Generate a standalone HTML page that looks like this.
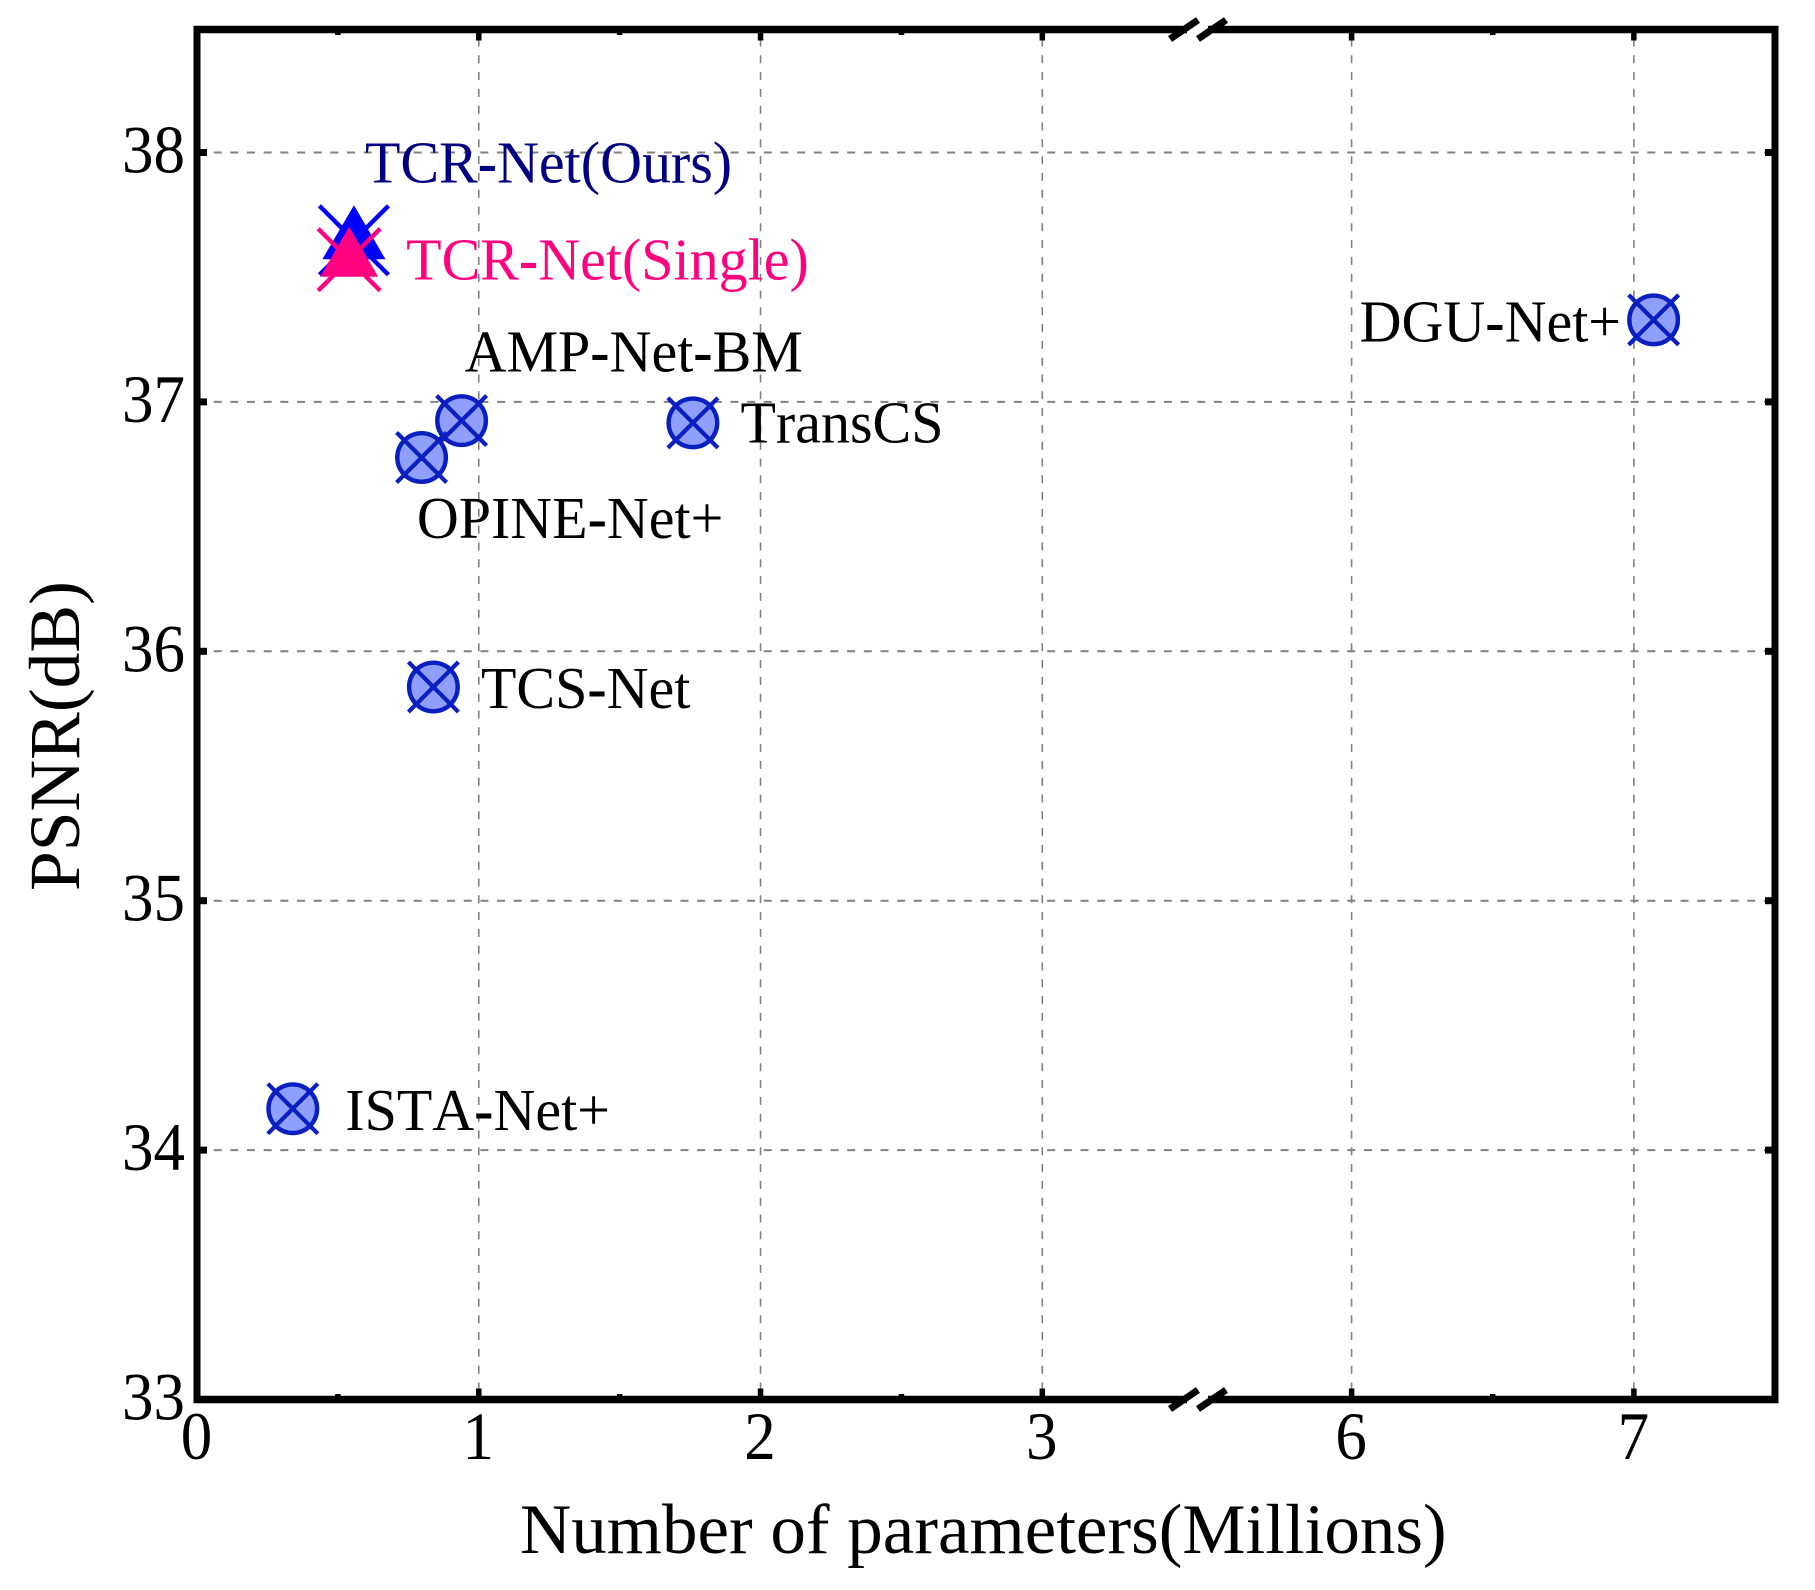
<!DOCTYPE html>
<html lang="en">
<head>
<meta charset="utf-8">
<title>PSNR vs Number of Parameters</title>
<style>
  html, body { margin: 0; padding: 0; background: #ffffff; }
  svg { display: block; }
  text { font-family: "Liberation Serif", "Times New Roman", serif; fill: #000000; font-kerning: none; }
</style>
</head>
<body>
<svg id="chart" xmlns="http://www.w3.org/2000/svg" width="1815" height="1590" viewBox="0 0 1815 1590">
  <rect x="0" y="0" width="1815" height="1590" fill="#ffffff"/>
  <g id="grid"></g>
  <g id="labels"></g>
  <g id="marks"></g>
  <g id="frame">
    <line x1="197" y1="26" x2="197" y2="1403" stroke="#000" stroke-width="7"/>
    <line x1="1775" y1="26" x2="1775" y2="1403" stroke="#000" stroke-width="7"/>
    <line x1="193.5" y1="29.5" x2="1778.5" y2="29.5" stroke="#000" stroke-width="7.5"/>
    <line x1="193.5" y1="1399.5" x2="1778.5" y2="1399.5" stroke="#000" stroke-width="7.5"/>
  </g>
  <g id="ticks"></g>
  <g id="breaks"></g>
  <g id="ticklabels"></g>
  <text x="520" y="1553" font-size="71">Number of parameters(Millions)</text>
  <text transform="translate(79 891) rotate(-90)" font-size="71.5">PSNR(dB)</text>
</svg>
<script>
// ---- chart data ----
const categories = ["TCR-Net(Ours)", "TCR-Net(Single)", "AMP-Net-BM", "TransCS", "OPINE-Net+", "TCS-Net", "ISTA-Net+", "DGU-Net+"];
const paramsMillions = [0.557, 0.540, 0.939, 1.760, 0.797, 0.839, 0.340, 7.070];
const psnrValues = [37.648, 37.570, 36.925, 36.916, 36.777, 35.857, 34.166, 37.329];
const xTickValues = [0, 1, 2, 3, 6, 7];
const xTickLabels = ["0", "1", "2", "3", "6", "7"];
const xMinorValues = [0.5, 1.5, 2.5, 6.5];
const yTickValues = [33, 34, 35, 36, 37, 38];
const yTickLabels = ["33", "34", "35", "36", "37", "38"];

// ---- presentation (not data) ----
const markerKinds = ["blueTriangle", "pinkTriangle", "circle", "circle", "circle", "circle", "circle", "circle"];
const labelColors = ["#000080", "#ff0080", "#000", "#000", "#000", "#000", "#000", "#000"];
const labelDx = [11, 57, 3, 47.6, -4.7, 47.6, 52.5, -294];
const labelDy = [-58, 20, -49, 19.5, 80.5, 21, 21.5, 21.7];

const NS = "http://www.w3.org/2000/svg";
function make(tag, parent, attrs) {
  const el = document.createElementNS(NS, tag);
  for (const k in attrs) el.setAttribute(k, attrs[k]);
  parent.appendChild(el);
  return el;
}

// Broken x axis: two linear segments
function xScale(v) {
  if (v <= 3) return 197 + v * 281.77;
  return 1351.6 + (v - 6) * 282.27;
}
function yScale(v) {
  return 1399.5 - (v - 33) * 249.4;
}

const gridG = document.getElementById("grid");
const tickG = document.getElementById("ticks");
const tickLabelG = document.getElementById("ticklabels");
const labelG = document.getElementById("labels");
const markG = document.getElementById("marks");
const breakG = document.getElementById("breaks");

// horizontal grid + y ticks + y labels
yTickValues.forEach(function (v, i) {
  const y = yScale(v);
  if (v !== 33) {
    const g = make("line", gridG, { x1: 197, y1: y, x2: 1775, y2: y, stroke: "#808080", "stroke-width": 2, "stroke-dasharray": "8 8.67" });
    
    
    const tl = make("line", tickG, { x1: 197, y1: y, x2: 207, y2: y, stroke: "#000", "stroke-width": 7 });
    
    
    const tr = make("line", tickG, { x1: 1775, y1: y, x2: 1765, y2: y, stroke: "#000", "stroke-width": 7 });
    
    
  }
  const t = make("text", tickLabelG, { transform: "translate(185 " + (y + 20) + ") scale(1 1.07)", "font-size": 63, "text-anchor": "end" });
  
  
  t.textContent = yTickLabels[i];
});

// vertical grid + x ticks + x labels
xTickValues.forEach(function (v, i) {
  const x = xScale(v);
  if (v !== 0) {
    const g = make("line", gridG, { x1: x, y1: 29.5, x2: x, y2: 1399.5, stroke: "#808080", "stroke-width": 1.6, "stroke-dasharray": "8 8.8", "stroke-dashoffset": -9 });
    
    
    const tb = make("line", tickG, { x1: x, y1: 1399.5, x2: x, y2: 1388.5, stroke: "#000", "stroke-width": 5.5 });
    
    
    const tt = make("line", tickG, { x1: x, y1: 29.5, x2: x, y2: 40.5, stroke: "#000", "stroke-width": 5.5 });
    
    
  }
  const t = make("text", tickLabelG, { transform: "translate(" + (x - 0.5) + " 1459) scale(1 1.07)", "font-size": 63, "text-anchor": "middle" });
  
  
  t.textContent = xTickLabels[i];
});

// minor x ticks
xMinorValues.forEach(function (v) {
  const x = xScale(v);
  const tb = make("line", tickG, { x1: x, y1: 1399.5, x2: x, y2: 1394, stroke: "#000", "stroke-width": 5.5 });
  
  
  const tt = make("line", tickG, { x1: x, y1: 29.5, x2: x, y2: 35, stroke: "#000", "stroke-width": 5.5 });
  
  
});

// axis breaks
[29.5, 1399.5].forEach(function (y) {
  const gap = make("rect", breakG, { x: 1187, y: y - 5, width: 21, height: 10, fill: "#ffffff" });
  
  
  [1184, 1212].forEach(function (cx) {
    const s = make("line", breakG, { x1: cx - 14, y1: y + 9.5, x2: cx + 14, y2: y - 9.5, stroke: "#000", "stroke-width": 7 });
    
    
  });
});

function drawCross(g, cx, cy, r, color, w) {
  const a = make("line", g, { x1: cx - r, y1: cy - r, x2: cx + r, y2: cy + r, stroke: color, "stroke-width": w });
  
  
  const b = make("line", g, { x1: cx - r, y1: cy + r, x2: cx + r, y2: cy - r, stroke: color, "stroke-width": w });
  
  
}

function drawTriangle(g, cx, cy, halfW, up, down, color) {
  const p = make("polygon", g, {
    points: cx + "," + (cy - up) + " " + (cx + halfW) + "," + (cy + down) + " " + (cx - halfW) + "," + (cy + down),
    fill: color
  });
  
  
}

// Point label with the heavier hyphen seen in the reference
function fillLabel(t, name) {
  name.split("-").forEach(function (part, k) {
    if (k > 0) {
      const h = make("tspan", t, { "font-weight": "bold" });
      h.textContent = "-";
    }
    t.appendChild(document.createTextNode(part));
  });
}

// labels and points
categories.forEach(function (name, i) {
  const cx = xScale(paramsMillions[i]);
  const cy = yScale(psnrValues[i]);

  const t = make("text", labelG, { transform: "translate(" + (cx + labelDx[i]) + " " + (cy + labelDy[i]) + ") scale(1 1.03)", "font-size": 58 });
  
  
  t.style.fill = labelColors[i];
  fillLabel(t, name);

  const g = make("g", markG, {});
  
  
  const kind = markerKinds[i];
  if (kind === "circle") {
    const c = make("circle", g, { cx: cx, cy: cy, r: 24.3, fill: "#8f9ffb", stroke: "#0a1fbf", "stroke-width": 4.4 });
    
    
    drawCross(g, cx, cy, 25, "#0a1fbf", 4.2);
  } else if (kind === "blueTriangle") {
    drawCross(g, cx, cy, 34.5, "#0000ff", 4.4);
    drawTriangle(g, cx, cy, 31.6, 35, 19, "#0000ff");
  } else {
    drawCross(g, cx, cy, 31, "#ff0080", 4.4);
    drawTriangle(g, cx, cy, 29, 33, 17, "#ff0080");
  }
});
</script>
</body>
</html>
